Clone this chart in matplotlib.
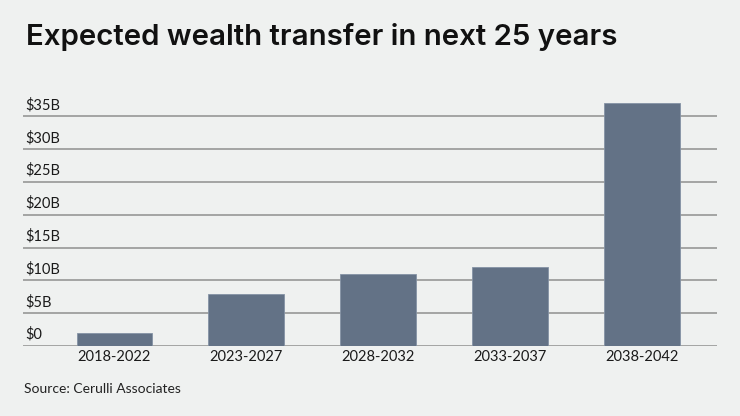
import matplotlib
matplotlib.use("Agg")
import matplotlib.pyplot as plt
import matplotlib.transforms as mtransforms

plt.rcParams['font.family'] = ['Lato', 'DejaVu Sans']

periods = ["2018-2022", "2023-2027", "2028-2032", "2033-2037", "2038-2042"]
wealth_b = [2, 8, 11, 12, 37]
y_ticks = [0, 5, 10, 15, 20, 25, 30, 35]
y_labels = ["$0", "$5B", "$10B", "$15B", "$20B", "$25B", "$30B", "$35B"]

bg = "#eff1f0"
bar_color = "#637286"

fig = plt.figure(figsize=(7.4, 4.16), dpi=100, facecolor=bg)
ax = fig.add_axes([0.0315, 0.1683, 0.937, 0.5913], facecolor=bg)

x = range(len(periods))
ax.bar(x, wealth_b, width=0.574, color=bar_color, edgecolor="#8593a5",
       linewidth=0.6, zorder=3)

ax.set_xlim(-0.692, 4.569)
ax.set_ylim(0, 37.5)
ax.set_yticks(y_ticks)
ax.set_yticklabels([])
ax.yaxis.grid(True, color="#9e9e9e", linewidth=1.3, zorder=1)
ax.tick_params(axis="y", length=0)
ax.tick_params(axis="x", length=0, pad=3, labelsize=10.5, colors="#1a1a1a")
ax.set_xticks(list(x))
ax.set_xticklabels(periods)
for s in ax.spines.values():
    s.set_visible(False)

# y labels sit just above each gridline
trans = mtransforms.offset_copy(ax.get_yaxis_transform(), fig=fig, x=0, y=3, units="points")
for v, lab in zip(y_ticks, y_labels):
    ax.text(0.0035, v, lab, transform=trans, ha="left", va="bottom",
            fontsize=10.5, color="#1a1a1a")

fig.text(26 / 740, 1 - 45 / 416, "Expected wealth transfer in next 25 years",
         fontsize=21.2, fontweight="semibold", color="#111111", ha="left", va="baseline",
         family=["Inter", "DejaVu Sans"])
fig.text(24 / 740, 1 - 393 / 416, "Source: Cerulli Associates",
         fontsize=10, color="#222222", ha="left", va="baseline")

fig.savefig("out.png", dpi=100, facecolor=bg)
